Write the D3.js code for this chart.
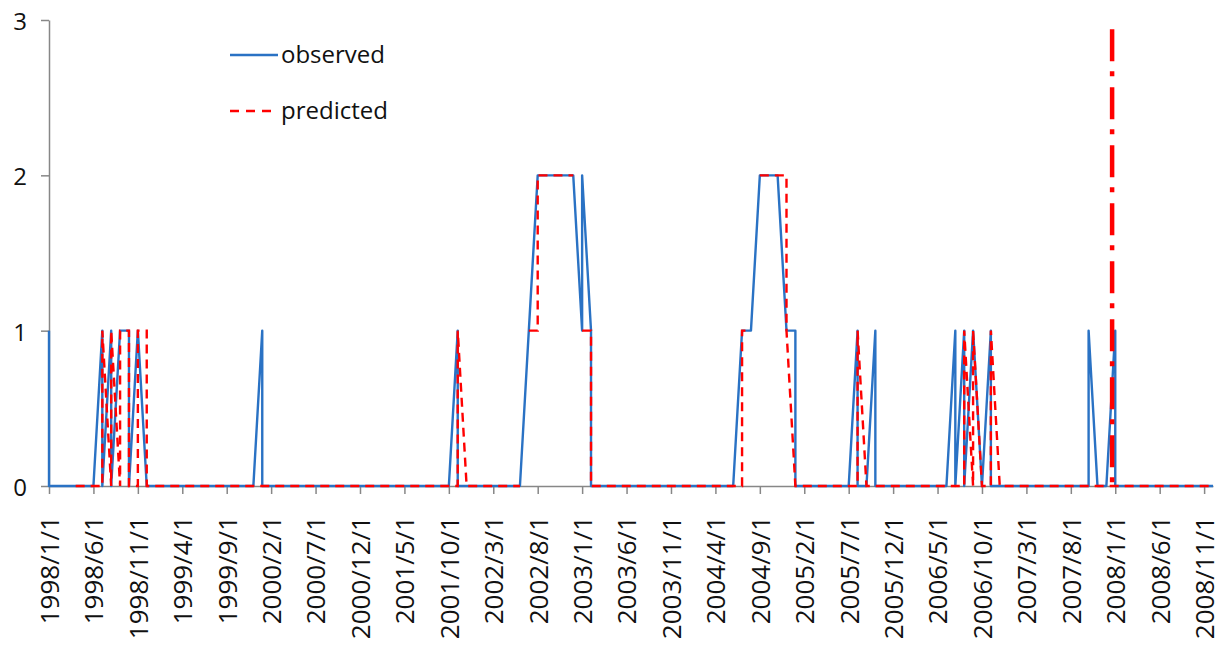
<!DOCTYPE html>
<html>
<head>
<meta charset="utf-8">
<script src="https://cdn.jsdelivr.net/npm/d3@7"></script>
<style>
  body { margin: 0; background: #fff; }
  text { font-family: "Open Sans", "Noto Sans", sans-serif; fill: #111; }
</style>
</head>
<body>
<svg id="chart" width="1224" height="653"></svg>
<script>
// Axis tick labels, one every five months from 1998/1 to 2008/11
const tickLabels = [
  "1998/1/1", "1998/6/1", "1998/11/1", "1999/4/1", "1999/9/1", "2000/2/1",
  "2000/7/1", "2000/12/1", "2001/5/1", "2001/10/1", "2002/3/1", "2002/8/1",
  "2003/1/1", "2003/6/1", "2003/11/1", "2004/4/1", "2004/9/1", "2005/2/1",
  "2005/7/1", "2005/12/1", "2006/5/1", "2006/10/1", "2007/3/1", "2007/8/1",
  "2008/1/1", "2008/6/1", "2008/11/1"
];
const tickStep = 5;          // months between labelled ticks
const monthCount = 132;      // 1998/1 .. 2008/12

// Two readings per month (first half, second half), one row per year
const observed = [
  1,0, 0,0, 0,0, 0,0, 0,0, 0,0, 1,0, 1,0, 1,1, 1,0, 1,1, 0,0,   // 1998
  0,0, 0,0, 0,0, 0,0, 0,0, 0,0, 0,0, 0,0, 0,0, 0,0, 0,0, 0,0,   // 1999
  1,0, 0,0, 0,0, 0,0, 0,0, 0,0, 0,0, 0,0, 0,0, 0,0, 0,0, 0,0,   // 2000
  0,0, 0,0, 0,0, 0,0, 0,0, 0,0, 0,0, 0,0, 0,0, 0,0, 1,0, 0,0,   // 2001
  0,0, 0,0, 0,0, 0,0, 0,0, 0,0, 1,1, 2,2, 2,2, 2,2, 2,2, 2,2,   // 2002
  1,2, 1,0, 0,0, 0,0, 0,0, 0,0, 0,0, 0,0, 0,0, 0,0, 0,0, 0,0,   // 2003
  0,0, 0,0, 0,0, 0,0, 0,0, 0,0, 1,1, 1,1, 2,2, 2,2, 2,2, 1,1,   // 2004
  1,0, 0,0, 0,0, 0,0, 0,0, 0,0, 0,0, 1,0, 0,0, 1,0, 0,0, 0,0,   // 2005
  0,0, 0,0, 0,0, 0,0, 0,0, 0,0, 1,0, 1,0, 1,1, 0,0, 1,0, 0,0,   // 2006
  0,0, 0,0, 0,0, 0,0, 0,0, 0,0, 0,0, 0,0, 0,0, 0,1, 0,0, 0,0,   // 2007
  1,0, 0,0, 0,0, 0,0, 0,0, 0,0, 0,0, 0,0, 0,0, 0,0, 0,0, 0,0    // 2008
];
const predicted = [
  null,null, null,null, null,null, 0,0, 0,0, 0,0, 0,1, 0,1, 0,1, 1,0, 0,1, 1,0,   // 1998
  0,0, 0,0, 0,0, 0,0, 0,0, 0,0, 0,0, 0,0, 0,0, 0,0, 0,0, 0,0,   // 1999
  0,0, 0,0, 0,0, 0,0, 0,0, 0,0, 0,0, 0,0, 0,0, 0,0, 0,0, 0,0,   // 2000
  0,0, 0,0, 0,0, 0,0, 0,0, 0,0, 0,0, 0,0, 0,0, 0,0, 0,1, 0,0,   // 2001
  0,0, 0,0, 0,0, 0,0, 0,0, 0,null, 1,1, 1,2, 2,2, 2,2, 2,2, 2,null,   // 2002
  1,1, 1,0, 0,0, 0,0, 0,0, 0,0, 0,0, 0,0, 0,0, 0,0, 0,0, 0,0,   // 2003
  0,0, 0,0, 0,0, 0,0, 0,0, 0,0, 0,1, 1,null, 2,2, 2,2, 2,2, 2,1,   // 2004
  0,0, 0,0, 0,0, 0,0, 0,0, 0,0, 0,0, 0,1, 0,0, 0,0, 0,0, 0,0,   // 2005
  0,0, 0,0, 0,0, 0,0, 0,0, 0,0, 0,0, 0,1, 0,1, 0,0, 0,1, 0,0,   // 2006
  0,0, 0,0, 0,0, 0,0, 0,0, 0,0, 0,0, 0,0, 0,0, 0,0, 0,0, 0,0,   // 2007
  0,0, 0,0, 0,0, 0,0, 0,0, 0,0, 0,0, 0,0, 0,0, 0,0, 0,0, 0,0    // 2008
];
const yTicks = [0, 1, 2, 3];

// Start of the forecast period, drawn as a dash-dot marker
const forecastStart = { year: 2007, month: 12, day: 21 };
const forecastTop = 2.94;

const seriesNames = ["observed", "predicted"];

// ---- layout ----
const svg = d3.select("#chart");
const plotLeft = 49, plotRight = 1213, plotTop = 20, plotBottom = 486;

const x = d3.scaleLinear().domain([0, monthCount - 1]).range([plotLeft, plotRight]);
const y = d3.scaleLinear().domain([0, 3]).range([plotBottom, plotTop]);

const toPoints = arr => arr.map((v, i) => ({ m: Math.floor(i / 2), v }));

const line = d3.line()
  .defined(d => d.v !== null)
  .x(d => x(d.m))
  .y(d => y(d.v));

// axes
const axisColor = "#878787";
const xAxis = svg.append("g")
  .attr("transform", `translate(0,${plotBottom})`)
  .call(d3.axisBottom(x)
    .tickValues(d3.range(0, monthCount - 1, tickStep))
    .tickFormat((d, i) => tickLabels[i])
    .tickSize(8)
    .tickSizeOuter(0));
xAxis.select(".domain").attr("stroke", axisColor).attr("stroke-width", 1.5);
xAxis.selectAll(".tick line").attr("stroke", axisColor).attr("stroke-width", 1.5);
xAxis.selectAll(".tick text")
  .attr("transform", "rotate(-90)")
  .attr("text-anchor", "end")
  .attr("x", -30)
  .attr("y", 0)
  .attr("dy", "0.36em")
  .style("font-size", "26px")
  .style("font-family", "'Open Sans', sans-serif")
  .attr("fill", "#111");

const yAxis = svg.append("g")
  .attr("transform", `translate(${plotLeft},0)`)
  .call(d3.axisLeft(y)
    .tickValues(yTicks)
    .tickFormat(d3.format("d"))
    .tickSize(8)
    .tickPadding(14)
    .tickSizeOuter(0));
yAxis.select(".domain").attr("stroke", axisColor).attr("stroke-width", 1.5);
yAxis.selectAll(".tick line").attr("stroke", axisColor).attr("stroke-width", 1.5);
yAxis.selectAll(".tick text")
  .attr("dy", "0.4em")
  .style("font-size", "24px")
  .style("font-family", "'Open Sans', sans-serif")
  .attr("fill", "#111");

// series
const blue = "#2a72c4";
const red = "#ff0000";

svg.append("path")
  .datum(toPoints(observed))
  .attr("fill", "none")
  .attr("stroke", blue)
  .attr("stroke-width", 2.4)
  .attr("stroke-linejoin", "round")
  .attr("d", line);

svg.append("path")
  .datum(toPoints(predicted))
  .attr("fill", "none")
  .attr("stroke", red)
  .attr("stroke-width", 2.4)
  .attr("stroke-dasharray", "9,6")
  .attr("d", line);

// forecast start marker
const daysIn = new Date(forecastStart.year, forecastStart.month, 0).getDate();
const fm = (forecastStart.year - 1998) * 12 + (forecastStart.month - 1) + (forecastStart.day - 1) / daysIn;
svg.append("line")
  .attr("x1", x(fm)).attr("x2", x(fm))
  .attr("y1", y(forecastTop)).attr("y2", y(0))
  .attr("stroke", red)
  .attr("stroke-width", 4.5)
  .attr("stroke-dasharray", "32,10,5,11");

// legend
const legend = svg.append("g").attr("transform", "translate(230,55)");
seriesNames.forEach((name, i) => {
  const g = legend.append("g").attr("transform", `translate(0,${i * 56})`);
  g.append("line")
    .attr("x1", 0).attr("x2", 48).attr("y1", 0).attr("y2", 0)
    .attr("stroke", i === 0 ? blue : red)
    .attr("stroke-width", 2.4)
    .attr("stroke-dasharray", i === 0 ? null : "9,7");
  g.append("text")
    .attr("x", 51).attr("y", 0).attr("dy", "0.34em")
    .style("font-size", "24px")
    .text(name);
});
</script>
</body>
</html>
